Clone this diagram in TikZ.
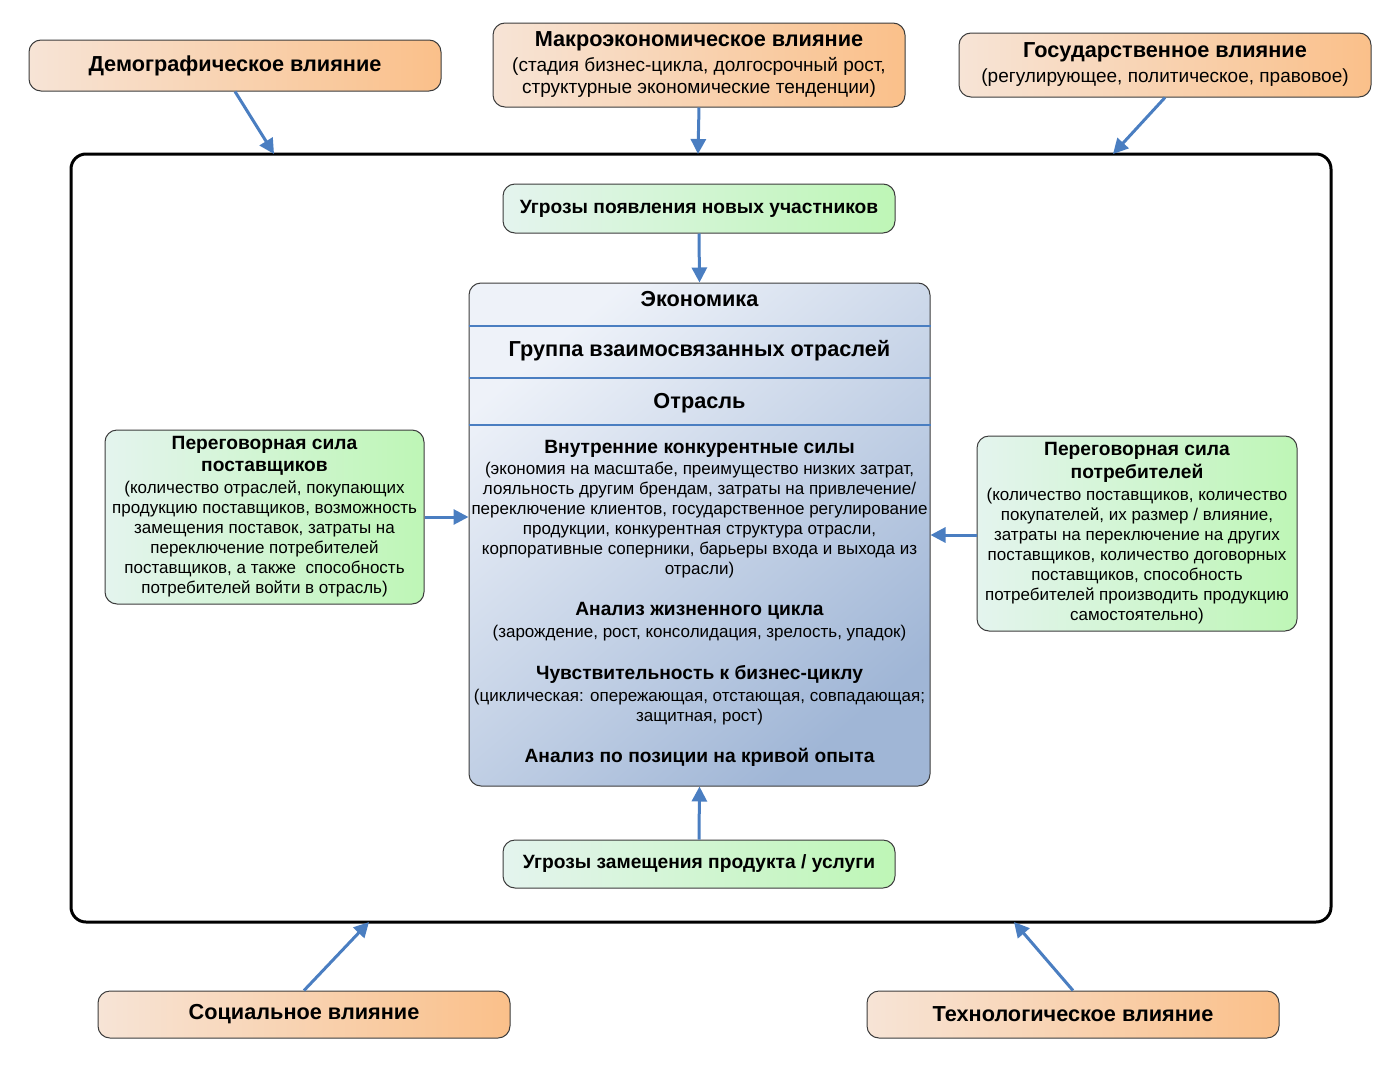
\documentclass[tikz,border=0pt]{standalone}
\usepackage{fontspec}
\setmainfont{Liberation Sans}
\usetikzlibrary{arrows.meta}
\definecolor{arrowblue}{RGB}{74,126,193}
\definecolor{orangeL}{RGB}{247,228,214}
\definecolor{orangeR}{RGB}{250,192,138}
\definecolor{greenL}{RGB}{228,244,238}
\definecolor{greenR}{RGB}{190,246,182}
\definecolor{blueL}{RGB}{238,242,249}
\definecolor{blueR}{RGB}{160,182,214}
\definecolor{edge}{RGB}{60,60,60}
\newcommand{\hd}[1]{{\fontsize{21.7}{25}\selectfont\bfseries #1}}
\newcommand{\sd}[1]{{\fontsize{19.2}{22}\selectfont\bfseries #1}}
\tikzset{
  box/.style={draw=edge, line width=1, rounded corners=12, align=center,
    inner sep=0, font=\fontsize{17}{20}\selectfont},
  orangebox/.style={box, left color=orangeL, right color=orangeR},
  greenbox/.style={box, left color=greenL, right color=greenR},
  bluearrow/.style={draw=arrowblue, line width=3, -{Triangle[length=15, width=15]}},
  sepline/.style={draw=arrowblue, line width=2.5}
}
\begin{document}
\begin{tikzpicture}[x=1pt, y=-1pt]
\useasboundingbox (0,0) rectangle (1400,1068);
\node[draw, line width=3, rounded corners=15, minimum width=1260, minimum height=768] (frame) at (701,538) {};
\coordinate (fdemo) at (274,154);
\coordinate (fmacro) at (698,154);
\coordinate (fgov) at (1113,154);
\coordinate (fsoc) at (369,922);
\coordinate (ftech) at (1014,922);

\node[orangebox, minimum width=412, minimum height=51] (demo) at (235,65.5) {\hd{Демографическое влияние}};
\node[orangebox, minimum width=412, minimum height=84, font=\fontsize{19}{22}\selectfont] (macro) at (699,65) {\hd{Макроэкономическое влияние}\\[3pt]
  (стадия бизнес-цикла, долгосрочный рост,\\
  структурные экономические тенденции)};
\node[orangebox, minimum width=412, minimum height=64, font=\fontsize{19}{22}\selectfont] (gov) at (1165,65) {\hd{Государственное влияние}\\[3pt]
  (регулирующее, политическое, правовое)};
\node[orangebox, minimum width=412, minimum height=47] (soc) at (304,1014.5) {\hd{Социальное влияние}};
\node[orangebox, minimum width=412, minimum height=47] (tech) at (1073,1014.5) {\hd{Технологическое влияние}};

\node[greenbox, minimum width=392, minimum height=49] (newc) at (699,208.5) {\sd{Угрозы появления новых участников}};
\node[greenbox, minimum width=392, minimum height=48] (subst) at (699,864) {\sd{Угрозы замещения продукта / услуги}};
\node[greenbox, minimum width=319, minimum height=174] (sup) at (264.5,517) {\sd{Переговорная сила}\\[2pt]
  \sd{поставщиков}\\[2pt]
  (количество отраслей, покупающих\\
  продукцию поставщиков, возможность\\
  замещения поставок, затраты на\\
  переключение потребителей\\
  поставщиков, а также \ способность\\
  потребителей войти в отрасль)};
\node[greenbox, minimum width=320, minimum height=195] (cons) at (1137,533.5) {\sd{Переговорная сила}\\[3pt]
  \sd{потребителей}\\[2pt]
  (количество поставщиков, количество\\
  покупателей, их размер / влияние,\\
  затраты на переключение на других\\
  поставщиков, количество договорных\\
  поставщиков, способность\\
  потребителей производить продукцию\\
  самостоятельно)};

\node[box, top color=blueL, bottom color=blueR, shading angle=40, minimum width=461, minimum height=503] (central) at (699.5,534.5) {};
\draw[sepline] (central.west |- 0,326) -- (central.east |- 0,326);
\draw[sepline] (central.west |- 0,378) -- (central.east |- 0,378);
\draw[sepline] (central.west |- 0,425) -- (central.east |- 0,425);
\node (econ) at (699.5,299) {\hd{Экономика}};
\node (group) at (699.5,351) {\hd{Группа взаимосвязанных отраслей}};
\node (ind) at (699.5,403) {\hd{Отрасль}};
\node[align=center, anchor=north, inner sep=0, font=\fontsize{17}{20}\selectfont] (forces) at (699.5,440) {\sd{Внутренние конкурентные силы}\\[1pt]
  (экономия на масштабе, преимущество низких затрат,\\
  лояльность другим брендам, затраты на привлечение/\\
  переключение клиентов, государственное регулирование\\
  продукции, конкурентная структура отрасли,\\
  корпоративные соперники, барьеры входа и выхода из\\
  отрасли)\\[21pt]
  \sd{Анализ жизненного цикла}\\[2pt]
  (зарождение, рост, консолидация, зрелость, упадок)\\[22pt]
  \sd{Чувствительность к бизнес-циклу}\\[2pt]
  (циклическая: опережающая, отстающая, совпадающая;\\
  защитная, рост)\\[21pt]
  \sd{Анализ по позиции на кривой опыта}};

\draw[bluearrow] (demo.south) -- (fdemo);
\draw[bluearrow] (macro.south) -- (fmacro);
\draw[bluearrow] (gov.south) -- (fgov);
\draw[bluearrow] (soc.north) -- (fsoc);
\draw[bluearrow] (tech.north) -- (ftech);
\draw[bluearrow] (newc.south) -- (central.north);
\draw[bluearrow] (subst.north) -- (central.south);
\draw[bluearrow] (sup.east) -- (sup.east -| central.west);
\draw[bluearrow] (cons.west |- 0,535) -- (central.east |- 0,535);
\end{tikzpicture}
\end{document}
